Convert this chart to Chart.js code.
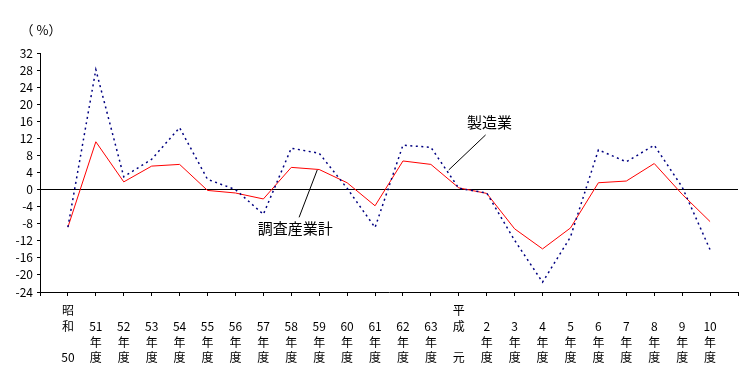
<!DOCTYPE html>
<html>
<head>
<meta charset="utf-8">
<script src="https://cdn.jsdelivr.net/npm/chart.js@4"></script>
<style>
    html, body { margin: 0; padding: 0; background: #fff; }
    #wrap { width: 754px; height: 382px; }
</style>
</head>
<body>
<div id="wrap"><canvas id="chart"></canvas></div>
<script>
const categories = [
    ['昭', '和', '', '50'],
    ['', '51', '年', '度'], ['', '52', '年', '度'], ['', '53', '年', '度'],
    ['', '54', '年', '度'], ['', '55', '年', '度'], ['', '56', '年', '度'],
    ['', '57', '年', '度'], ['', '58', '年', '度'], ['', '59', '年', '度'],
    ['', '60', '年', '度'], ['', '61', '年', '度'], ['', '62', '年', '度'],
    ['', '63', '年', '度'],
    ['平', '成', '', '元'],
    ['', '2', '年', '度'], ['', '3', '年', '度'], ['', '4', '年', '度'],
    ['', '5', '年', '度'], ['', '6', '年', '度'], ['', '7', '年', '度'],
    ['', '8', '年', '度'], ['', '9', '年', '度'], ['', '10', '年', '度']
];

// 調査産業計
const totalValues = [-8.8, 11.2, 1.8, 5.5, 5.9, -0.2, -0.8, -2.2, 5.2, 4.7, 1.6, -3.8,
    6.7, 5.9, 0.4, -0.9, -9.2, -13.9, -9.0, 1.6, 2.0, 6.1, -1.1, -7.5];
// 製造業
const mfgValues = [-8.8, 28.1, 3.0, 7.1, 14.5, 2.4, 0.0, -5.8, 9.7, 8.5, 0.3, -8.9,
    10.4, 9.9, 0.3, -0.8, -11.9, -21.7, -11.1, 9.3, 6.5, 10.4, 0.6, -14.1];

const yMin = -24, yMax = 32, yStep = 4;

// label text, text centre and leader line ends, in data units
const callouts = [
    { text: '製造業', tx: 15.1, ty: 15.8, from: [13.64, 4.6], to: [14.96, 12.8] },
    { text: '調査産業計', tx: 8.14, ty: -9.0, from: [8.93, 4.6], to: [8.28, -6.5] }
];

const fontFamily = "'Noto Sans CJK JP', 'DejaVu Sans', sans-serif";

const toPoints = arr => arr.map((v, i) => ({ x: i, y: v }));

const calloutPlugin = {
    id: 'callouts',
    afterDatasetsDraw(chart) {
        const { ctx, scales: { x, y } } = chart;
        ctx.save();
        // unit label
        ctx.fillStyle = '#000';
        ctx.font = '13px ' + fontFamily;
        ctx.textAlign = 'center';
        ctx.textBaseline = 'middle';
        ctx.fillText('（ %）', chart.chartArea.left + 1, 30);

        callouts.forEach(c => {
            ctx.strokeStyle = '#000';
            ctx.lineWidth = 1;
            ctx.beginPath();
            ctx.moveTo(x.getPixelForValue(c.from[0]), y.getPixelForValue(c.from[1]));
            ctx.lineTo(x.getPixelForValue(c.to[0]), y.getPixelForValue(c.to[1]));
            ctx.stroke();
            ctx.font = '15px ' + fontFamily;
            ctx.fillText(c.text, x.getPixelForValue(c.tx), y.getPixelForValue(c.ty));
        });
        ctx.restore();
    }
};

new Chart(document.getElementById('chart'), {
    type: 'line',
    data: {
        datasets: [
            {
                label: '製造業',
                data: toPoints(mfgValues),
                borderColor: '#000080',
                borderWidth: 1.5,
                borderDash: [2, 3.5],
                pointRadius: 0,
                tension: 0,
                fill: false
            },
            {
                label: '調査産業計',
                data: toPoints(totalValues),
                borderColor: '#ff0000',
                borderWidth: 1,
                pointRadius: 0,
                tension: 0,
                fill: false
            }
        ]
    },
    options: {
        responsive: true,
        maintainAspectRatio: false,
        animation: false,
        layout: { padding: { left: 0, right: 16, top: 53, bottom: 0 } },
        plugins: {
            legend: { display: false },
            tooltip: { enabled: false }
        },
        scales: {
            x: {
                type: 'linear',
                min: -1,
                max: categories.length,
                afterFit(scale) { scale.height = 90; },
                ticks: {
                    stepSize: 1,
                    autoSkip: false,
                    maxRotation: 0,
                    padding: 7,
                    color: '#000',
                    font: { family: fontFamily, size: 12, lineHeight: 1.3 },
                    callback: v => categories[v] || ''
                },
                grid: {
                    drawOnChartArea: false,
                    tickLength: 4,
                    tickColor: '#000',
                    color: '#000'
                },
                border: { display: true, color: '#000', width: 1 }
            },
            y: {
                min: yMin,
                max: yMax,
                afterFit(scale) { scale.width = 40; },
                ticks: {
                    stepSize: yStep,
                    autoSkip: false,
                    padding: 4,
                    color: '#000',
                    font: { family: fontFamily, size: 12 }
                },
                grid: {
                    drawOnChartArea: true,
                    tickLength: 3,
                    tickColor: '#000',
                    color: ctx => ctx.tick && ctx.tick.value === 0 ? '#000' : 'rgba(0,0,0,0)'
                },
                border: { display: true, color: '#000', width: 1 }
            }
        }
    },
    plugins: [calloutPlugin]
});
</script>
</body>
</html>
